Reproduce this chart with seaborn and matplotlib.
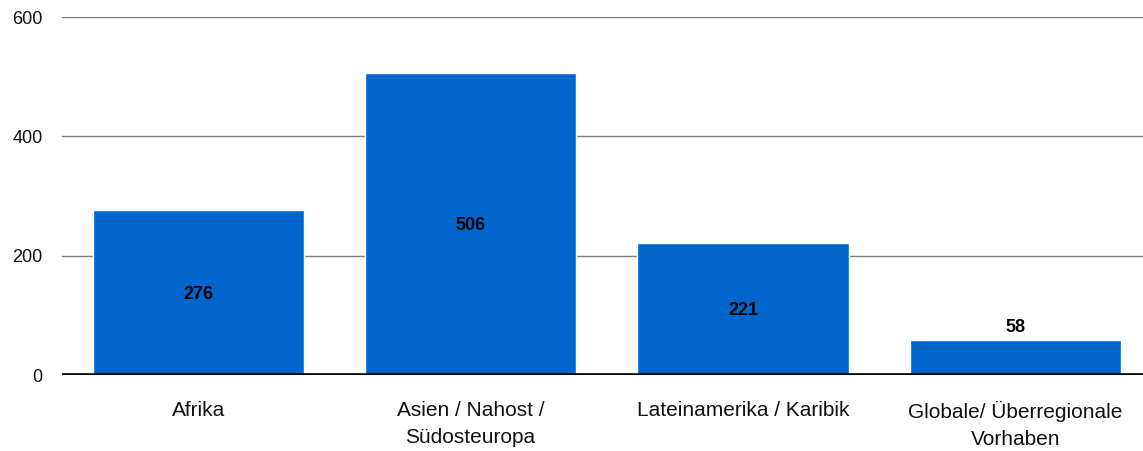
import matplotlib
matplotlib.use("Agg")
import matplotlib.pyplot as plt
import seaborn as sns
import pandas as pd

regionen = ["Afrika", "Asien / Nahost /\nSüdosteuropa", "Lateinamerika / Karibik",
            "Globale/ Überregionale\nVorhaben"]
anzahl = [276, 506, 221, 58]
y_ticks = [0, 200, 400, 600]

sns.set_style("white")
plt.rcParams['font.family'] = ['Liberation Sans', 'DejaVu Sans']

df = pd.DataFrame({"region": regionen, "anzahl": anzahl})

fig = plt.figure(figsize=(11.43, 4.51), dpi=100)
ax = fig.add_axes([0.0542, 0.1685, 0.9533, 0.7938])

sns.barplot(data=df, x="region", y="anzahl", color="#0066cc", saturation=1,
            width=0.775, ax=ax, zorder=3)

ax.set_ylim(0, 600)
ax.set_xlim(-0.5, 3.5)
ax.set_yticks(y_ticks)
ax.yaxis.grid(True, color="#7f7f7f", lw=1, zorder=0)
ax.axhline(0, color="black", lw=2.6, zorder=4)
for s in ax.spines.values():
    s.set_visible(False)
ax.set_xlabel("")
ax.set_ylabel("")
ax.tick_params(axis="y", length=0, pad=14, labelsize=13, labelcolor="#111111")
ax.tick_params(axis="x", length=0, pad=19, labelsize=15, labelcolor="#111111")
for lbl in ax.get_xticklabels():
    lbl.set_linespacing(1.5)

# Werte in die Balken, bei kleinen Balken darueber
for p, v in zip(ax.patches, anzahl):
    cx = p.get_x() + p.get_width() / 2
    if v > 100:
        ax.text(cx, v / 2 - 3, str(v), ha="center", va="center", fontsize=13,
                fontweight="bold", color="black", zorder=5)
    else:
        ax.text(cx, v + 22, str(v), ha="center", va="center", fontsize=13,
                fontweight="bold", color="black", zorder=5)

fig.savefig("out.png", dpi=100)
